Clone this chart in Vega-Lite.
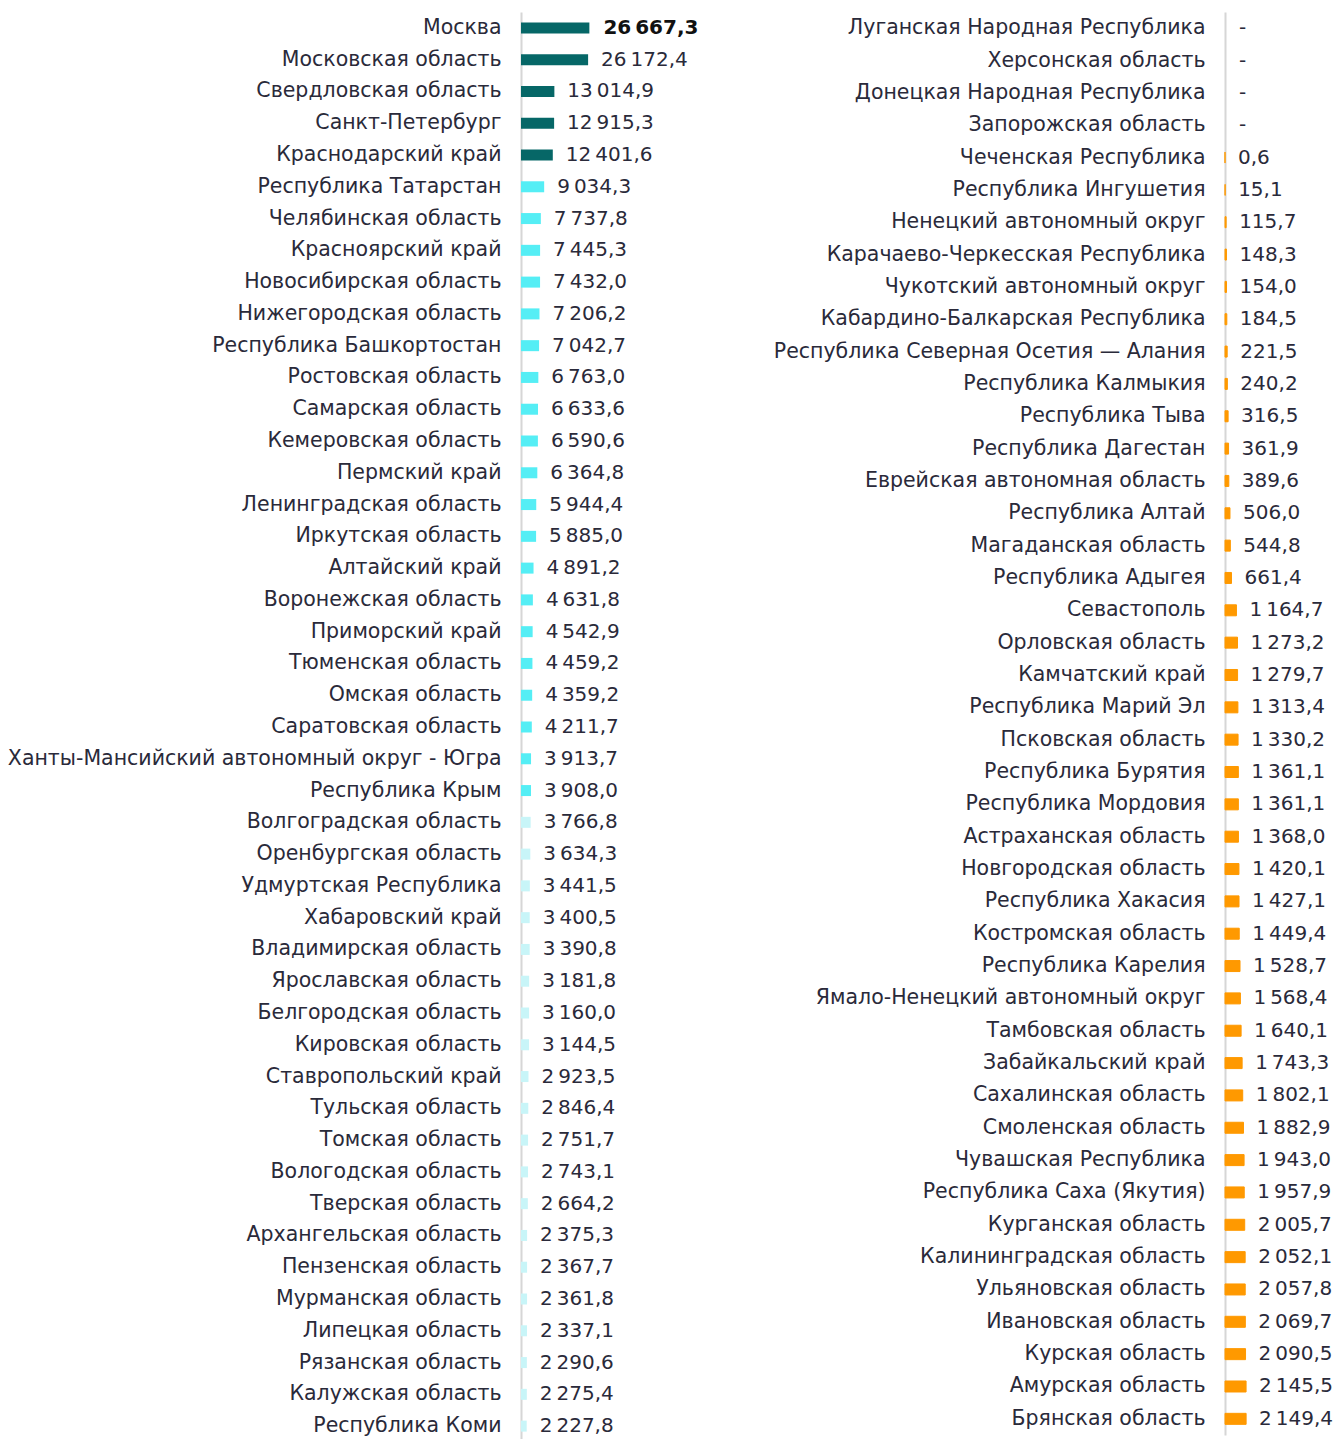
{
  "$schema": "https://vega.github.io/schema/vega-lite/v6.json",
  "background": "white",
  "padding": {"left": 7, "top": 12, "right": 0, "bottom": 0},
  "spacing": 52,
  "config": {
    "view": {"stroke": null},
    "font": "DejaVu Sans",
    "locale": {"number": {"decimal": ",", "thousands": "\u2009", "grouping": [3], "currency": ["", ""]}},
    "axis": {"labelFont": "DejaVu Sans", "labelFontSize": 20.5, "labelColor": "#2a2a3a", "labelLimit": 700, "labelPadding": 20, "ticks": false, "grid": false, "domainColor": "#d6d6d6", "domainWidth": 2, "title": null}
  },
  "datasets": {
    "left": [
      {"region": "Москва", "value": 26667.3, "grp": "top"},
      {"region": "Московская область", "value": 26172.4, "grp": "top"},
      {"region": "Свердловская область", "value": 13014.9, "grp": "top"},
      {"region": "Санкт-Петербург", "value": 12915.3, "grp": "top"},
      {"region": "Краснодарский край", "value": 12401.6, "grp": "top"},
      {"region": "Республика Татарстан", "value": 9034.3, "grp": "mid"},
      {"region": "Челябинская область", "value": 7737.8, "grp": "mid"},
      {"region": "Красноярский край", "value": 7445.3, "grp": "mid"},
      {"region": "Новосибирская область", "value": 7432.0, "grp": "mid"},
      {"region": "Нижегородская область", "value": 7206.2, "grp": "mid"},
      {"region": "Республика Башкортостан", "value": 7042.7, "grp": "mid"},
      {"region": "Ростовская область", "value": 6763.0, "grp": "mid"},
      {"region": "Самарская область", "value": 6633.6, "grp": "mid"},
      {"region": "Кемеровская область", "value": 6590.6, "grp": "mid"},
      {"region": "Пермский край", "value": 6364.8, "grp": "mid"},
      {"region": "Ленинградская область", "value": 5944.4, "grp": "mid"},
      {"region": "Иркутская область", "value": 5885.0, "grp": "mid"},
      {"region": "Алтайский край", "value": 4891.2, "grp": "mid"},
      {"region": "Воронежская область", "value": 4631.8, "grp": "mid"},
      {"region": "Приморский край", "value": 4542.9, "grp": "mid"},
      {"region": "Тюменская область", "value": 4459.2, "grp": "mid"},
      {"region": "Омская область", "value": 4359.2, "grp": "mid"},
      {"region": "Саратовская область", "value": 4211.7, "grp": "mid"},
      {"region": "Ханты-Мансийский автономный округ - Югра", "value": 3913.7, "grp": "mid"},
      {"region": "Республика Крым", "value": 3908.0, "grp": "mid"},
      {"region": "Волгоградская область", "value": 3766.8, "grp": "low"},
      {"region": "Оренбургская область", "value": 3634.3, "grp": "low"},
      {"region": "Удмуртская Республика", "value": 3441.5, "grp": "low"},
      {"region": "Хабаровский край", "value": 3400.5, "grp": "low"},
      {"region": "Владимирская область", "value": 3390.8, "grp": "low"},
      {"region": "Ярославская область", "value": 3181.8, "grp": "low"},
      {"region": "Белгородская область", "value": 3160.0, "grp": "low"},
      {"region": "Кировская область", "value": 3144.5, "grp": "low"},
      {"region": "Ставропольский край", "value": 2923.5, "grp": "low"},
      {"region": "Тульская область", "value": 2846.4, "grp": "low"},
      {"region": "Томская область", "value": 2751.7, "grp": "low"},
      {"region": "Вологодская область", "value": 2743.1, "grp": "low"},
      {"region": "Тверская область", "value": 2664.2, "grp": "low"},
      {"region": "Архангельская область", "value": 2375.3, "grp": "low"},
      {"region": "Пензенская область", "value": 2367.7, "grp": "low"},
      {"region": "Мурманская область", "value": 2361.8, "grp": "low"},
      {"region": "Липецкая область", "value": 2337.1, "grp": "low"},
      {"region": "Рязанская область", "value": 2290.6, "grp": "low"},
      {"region": "Калужская область", "value": 2275.4, "grp": "low"},
      {"region": "Республика Коми", "value": 2227.8, "grp": "low"}
    ],
    "right": [
      {"region": "Луганская Народная Республика", "value": null, "grp": "orange"},
      {"region": "Херсонская область", "value": null, "grp": "orange"},
      {"region": "Донецкая Народная Республика", "value": null, "grp": "orange"},
      {"region": "Запорожская область", "value": null, "grp": "orange"},
      {"region": "Чеченская Республика", "value": 0.6, "grp": "orange"},
      {"region": "Республика Ингушетия", "value": 15.1, "grp": "orange"},
      {"region": "Ненецкий автономный округ", "value": 115.7, "grp": "orange"},
      {"region": "Карачаево-Черкесская Республика", "value": 148.3, "grp": "orange"},
      {"region": "Чукотский автономный округ", "value": 154.0, "grp": "orange"},
      {"region": "Кабардино-Балкарская Республика", "value": 184.5, "grp": "orange"},
      {"region": "Республика Северная Осетия — Алания", "value": 221.5, "grp": "orange"},
      {"region": "Республика Калмыкия", "value": 240.2, "grp": "orange"},
      {"region": "Республика Тыва", "value": 316.5, "grp": "orange"},
      {"region": "Республика Дагестан", "value": 361.9, "grp": "orange"},
      {"region": "Еврейская автономная область", "value": 389.6, "grp": "orange"},
      {"region": "Республика Алтай", "value": 506.0, "grp": "orange"},
      {"region": "Магаданская область", "value": 544.8, "grp": "orange"},
      {"region": "Республика Адыгея", "value": 661.4, "grp": "orange"},
      {"region": "Севастополь", "value": 1164.7, "grp": "orange"},
      {"region": "Орловская область", "value": 1273.2, "grp": "orange"},
      {"region": "Камчатский край", "value": 1279.7, "grp": "orange"},
      {"region": "Республика Марий Эл", "value": 1313.4, "grp": "orange"},
      {"region": "Псковская область", "value": 1330.2, "grp": "orange"},
      {"region": "Республика Бурятия", "value": 1361.1, "grp": "orange"},
      {"region": "Республика Мордовия", "value": 1361.1, "grp": "orange"},
      {"region": "Астраханская область", "value": 1368.0, "grp": "orange"},
      {"region": "Новгородская область", "value": 1420.1, "grp": "orange"},
      {"region": "Республика Хакасия", "value": 1427.1, "grp": "orange"},
      {"region": "Костромская область", "value": 1449.4, "grp": "orange"},
      {"region": "Республика Карелия", "value": 1528.7, "grp": "orange"},
      {"region": "Ямало-Ненецкий автономный округ", "value": 1568.4, "grp": "orange"},
      {"region": "Тамбовская область", "value": 1640.1, "grp": "orange"},
      {"region": "Забайкальский край", "value": 1743.3, "grp": "orange"},
      {"region": "Сахалинская область", "value": 1802.1, "grp": "orange"},
      {"region": "Смоленская область", "value": 1882.9, "grp": "orange"},
      {"region": "Чувашская Республика", "value": 1943.0, "grp": "orange"},
      {"region": "Республика Саха (Якутия)", "value": 1957.9, "grp": "orange"},
      {"region": "Курганская область", "value": 2005.7, "grp": "orange"},
      {"region": "Калининградская область", "value": 2052.1, "grp": "orange"},
      {"region": "Ульяновская область", "value": 2057.8, "grp": "orange"},
      {"region": "Ивановская область", "value": 2069.7, "grp": "orange"},
      {"region": "Курская область", "value": 2090.5, "grp": "orange"},
      {"region": "Амурская область", "value": 2145.5, "grp": "orange"},
      {"region": "Брянская область", "value": 2149.4, "grp": "orange"}
    ]
  },
  "hconcat": [
    {
      "data": {"name": "left"},
      "width": 200,
      "height": 1430,
      "encoding": {
        "y": {"field": "region", "type": "nominal", "sort": null, "axis": {"title": null}}
      },
      "layer": [
        {
          "mark": {"type": "bar", "height": 11},
          "encoding": {
            "x": {"field": "value", "type": "quantitative", "scale": {"domain": [0, 78000]}, "axis": null},
            "color": {"field": "grp", "type": "nominal", "legend": null,
              "scale": {"domain": ["top", "mid", "low", "orange"], "range": ["#066767", "#55eef5", "#c8f5f8", "#ff9900"]}}
          }
        },
        {
          "transform": [{"filter": "datum.region !== 'Москва'"}],
          "mark": {"type": "text", "align": "left", "baseline": "middle", "dx": 13, "fontSize": 20, "font": "DejaVu Sans", "color": "#2a2a3a"},
          "encoding": {
            "x": {"field": "value", "type": "quantitative", "scale": {"domain": [0, 78000]}, "axis": null},
            "text": {"field": "value", "type": "quantitative", "format": ",.1f"}
          }
        },
        {
          "transform": [{"filter": "datum.region === 'Москва'"}],
          "mark": {"type": "text", "align": "left", "baseline": "middle", "dx": 14, "fontSize": 20, "font": "DejaVu Sans", "fontWeight": "bold", "color": "#111111"},
          "encoding": {
            "x": {"field": "value", "type": "quantitative", "scale": {"domain": [0, 78000]}, "axis": null},
            "text": {"field": "value", "type": "quantitative", "format": ",.1f"}
          }
        }
      ]
    },
    {
      "data": {"name": "right"},
      "width": 112,
      "height": 1423,
      "encoding": {
        "y": {"field": "region", "type": "nominal", "axis": {"title": null},
          "sort": ["Луганская Народная Республика", "Херсонская область", "Донецкая Народная Республика", "Запорожская область", "Чеченская Республика", "Республика Ингушетия", "Ненецкий автономный округ", "Карачаево-Черкесская Республика", "Чукотский автономный округ", "Кабардино-Балкарская Республика", "Республика Северная Осетия — Алания", "Республика Калмыкия", "Республика Тыва", "Республика Дагестан", "Еврейская автономная область", "Республика Алтай", "Магаданская область", "Республика Адыгея", "Севастополь", "Орловская область", "Камчатский край", "Республика Марий Эл", "Псковская область", "Республика Бурятия", "Республика Мордовия", "Астраханская область", "Новгородская область", "Республика Хакасия", "Костромская область", "Республика Карелия", "Ямало-Ненецкий автономный округ", "Тамбовская область", "Забайкальский край", "Сахалинская область", "Смоленская область", "Чувашская Республика", "Республика Саха (Якутия)", "Курганская область", "Калининградская область", "Ульяновская область", "Ивановская область", "Курская область", "Амурская область", "Брянская область"]}
      },
      "layer": [
        {
          "mark": {"type": "bar", "height": 11, "strokeWidth": 1},
          "encoding": {
            "x": {"field": "value", "type": "quantitative", "scale": {"domain": [0, 11400]}, "axis": null},
            "color": {"field": "grp", "type": "nominal", "legend": null,
              "scale": {"domain": ["top", "mid", "low", "orange"], "range": ["#066767", "#55eef5", "#c8f5f8", "#ff9900"]}},
            "stroke": {"field": "grp", "type": "nominal", "legend": null,
              "scale": {"domain": ["top", "mid", "low", "orange"], "range": ["#066767", "#55eef5", "#c8f5f8", "#ff9900"]}}
          }
        },
        {
          "transform": [{"filter": "datum.value !== null"}],
          "mark": {"type": "text", "align": "left", "baseline": "middle", "dx": 13, "fontSize": 20, "font": "DejaVu Sans", "color": "#2a2a3a"},
          "encoding": {
            "x": {"field": "value", "type": "quantitative", "scale": {"domain": [0, 11400]}, "axis": null},
            "text": {"field": "value", "type": "quantitative", "format": ",.1f"}
          }
        },
        {
          "transform": [{"filter": "datum.value === null"}],
          "mark": {"type": "text", "align": "left", "baseline": "middle", "dx": 14, "fontSize": 20, "font": "DejaVu Sans", "color": "#2a2a3a", "text": "-"},
          "encoding": {
            "x": {"datum": 0, "type": "quantitative", "scale": {"domain": [0, 11400]}, "axis": null}
          }
        }
      ]
    }
  ]
}
